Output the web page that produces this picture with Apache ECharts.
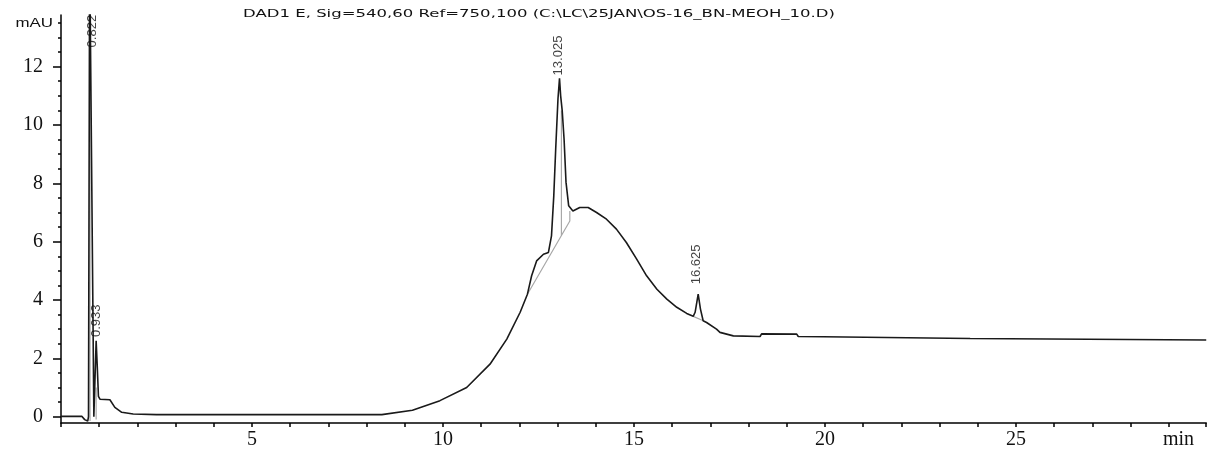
<!DOCTYPE html>
<html>
<head>
<meta charset="utf-8">
<script src="https://cdn.jsdelivr.net/npm/echarts@6/dist/echarts.min.js"></script>
<style>
html,body{margin:0;padding:0;background:#fff;}
#chart{width:1213px;height:450px;}
</style>
</head>
<body>
<div id="chart"></div>
<script>
// ---- data (retention time in min, signal in mAU) ----
const times = [0, 0.55, 0.62, 0.70, 0.72, 0.75, 0.80, 0.84, 0.86, 0.90, 0.92, 0.95, 0.98, 1.02, 1.28, 1.41, 1.59, 1.89, 2.5,
  8.4, 9.2, 9.92, 10.62, 11.23, 11.67, 12.02, 12.21, 12.32, 12.45, 12.63, 12.76, 12.84, 12.90, 12.95, 13.01, 13.05,
  13.08, 13.12, 13.17, 13.22, 13.29, 13.4, 13.45, 13.58, 13.8, 14.02, 14.28, 14.54, 14.8, 15.07, 15.33, 15.6, 15.86,
  16.12, 16.38, 16.55, 16.60, 16.68, 16.74, 16.81, 16.9, 17.16, 17.25, 17.6, 18.3, 18.34, 19.26, 19.3, 19.96, 20.0,
  23.8, 23.84, 29.98];
const signal = [0.01, 0.01, -0.1, -0.15, 0.0, 16, 16, 3, 0.0, -0.05, 2.6, 1.7, 0.7, 0.6, 0.58, 0.32, 0.15, 0.09, 0.07,
  0.07, 0.22, 0.55, 1.0, 1.8, 2.66, 3.58, 4.2, 4.83, 5.34, 5.57, 5.63, 6.2, 7.57, 9.17, 10.9, 11.6,
  11.0, 10.5, 9.5, 8.04, 7.23, 7.05, 7.05, 7.17, 7.17, 7.0, 6.77, 6.43, 5.97, 5.4, 4.83, 4.37, 4.03,
  3.75, 3.54, 3.44, 3.58, 4.2, 3.69, 3.29, 3.23, 3.0, 2.89, 2.77, 2.75, 2.84, 2.83, 2.75, 2.74, 2.68,
  2.68, 2.63, 2.63];

// integration baselines / drop lines (null separates segments)
const baseTimes  = [0.76, 0.76, null, 0.92, 0.92, null, 12.21, 13.32, 13.32, null, 13.1, 13.1, null, 16.55, 16.8];
const baseSignal = [-0.15, 16, null, -0.1, 1.0, null, 4.2, 6.71, 7.05, null, 6.21, 10.5, null, 3.44, 3.3];

// peak annotations
const peakTimes  = [0.822, 0.93, 13.025, 16.625];
const peakLabelY = [12.66, 2.73, 11.7, 4.54];
const peakLabels = ['0.822', '0.933', '13.025', '16.625'];

const xTickLabels = [5, 10, 15, 20, 25];
const yTickLabels = [0, 2, 4, 6, 8, 10, 12];
const yMinorTicks = [];
for (let v = 0; v <= 13.5; v += 0.5) yMinorTicks.push(v);

const titleText = 'DAD1 E, Sig=540,60 Ref=750,100 (C:\\LC\\25JAN\\OS-16_BN-MEOH_10.D)';

// ---- build ----
const trace = times.map((t, i) => [t, signal[i]]);
const base = baseTimes.map((t, i) => (t === null ? [null, null] : [t, baseSignal[i]]));
const peaks = peakTimes.map((t, i) => [t, peakLabelY[i], peakLabels[i]]);

const ctx = document.createElement('canvas').getContext('2d');
const titleFont = '11px "DejaVu Sans"';
ctx.font = titleFont;
const titleScale = 592 / ctx.measureText(titleText).width;

const serif = '"Liberation Serif", "DejaVu Serif", serif';
const sans = '"Liberation Sans", Arial, sans-serif';

const chart = echarts.init(document.getElementById('chart'), null, {renderer: 'canvas'});
chart.setOption({
  animation: false,
  backgroundColor: '#fff',
  grid: {left: 61, top: 15, width: 29.98 * 38.2, bottom: 26, containLabel: false},
  graphic: [{
    type: 'text', x: 243, y: 14, scaleX: titleScale,
    style: {text: titleText, font: titleFont, fill: '#111', textVerticalAlign: 'middle', verticalAlign: 'middle'}
  }, {
    type: 'text', x: 1163, y: 440,
    style: {text: 'min', font: '20px ' + serif, fill: '#111', textVerticalAlign: 'middle', verticalAlign: 'middle'}
  }, {
    type: 'text', x: 53, y: 23, scaleX: 1.3,
    style: {text: 'mAU', font: '13px ' + sans, fill: '#111', textAlign: 'right', align: 'right', textVerticalAlign: 'middle', verticalAlign: 'middle'}
  }],
  xAxis: {
    type: 'value', min: 0, max: 29.98, interval: 1,
    axisLine: {show: true, onZero: false, lineStyle: {color: '#000', width: 1.5}},
    axisTick: {show: true, length: 4, inside: false, lineStyle: {color: '#000', width: 1.5}},
    splitLine: {show: false},
    axisLabel: {
      interval: 0, margin: 7, color: '#111', fontSize: 20, fontFamily: serif,
      formatter: v => (xTickLabels.indexOf(v) >= 0 ? String(v) : '')
    }
  },
  yAxis: [{
    type: 'value', min: -0.216, max: 13.77, position: 'left',
    axisLine: {show: true, onZero: false, lineStyle: {color: '#000', width: 1.5}},
    axisTick: {show: true, length: 8, customValues: yTickLabels, lineStyle: {color: '#000', width: 1.5}},
    splitLine: {show: false},
    axisLabel: {margin: 18, color: '#111', fontSize: 20, fontFamily: serif, customValues: yTickLabels}
  }, {
    type: 'value', min: -0.216, max: 13.77, position: 'left',
    axisLine: {show: false},
    axisTick: {show: true, length: 3, customValues: yMinorTicks, lineStyle: {color: '#000', width: 1.5}},
    splitLine: {show: false},
    axisLabel: {show: false, customValues: []}
  }],
  series: [{
    type: 'line', data: base, yAxisIndex: 0, showSymbol: false, connectNulls: false,
    lineStyle: {color: '#a8a8a8', width: 1.2}, silent: true, z: 2
  }, {
    type: 'line', data: trace, yAxisIndex: 0, showSymbol: false, clip: true,
    lineStyle: {color: '#1a1a1a', width: 1.6}, silent: true, z: 3
  }, {
    type: 'scatter', data: peaks, yAxisIndex: 0, symbolSize: 0, silent: true, z: 4,
    label: {
      show: true, position: 'inside', rotate: 90, align: 'left', verticalAlign: 'middle',
      fontFamily: sans, fontSize: 13, color: '#111',
      formatter: p => p.data[2]
    }
  }]
});
</script>
</body>
</html>
